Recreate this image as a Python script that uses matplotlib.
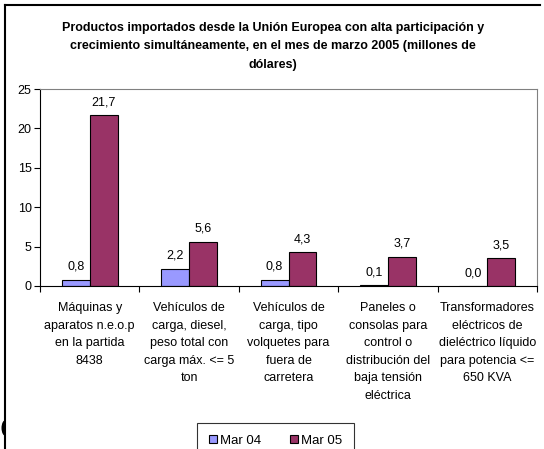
import matplotlib
matplotlib.use("Agg")
import matplotlib.pyplot as plt
from matplotlib.lines import Line2D
from matplotlib.patches import Ellipse, Rectangle
import numpy as np

plt.rcParams['font.family'] = ['Liberation Sans', 'DejaVu Sans']

categories = [
    "Máquinas y\naparatos n.e.o.p\nen la partida\n8438",
    "Vehículos de\ncarga, diesel,\npeso total con\ncarga máx. <= 5\nton",
    "Vehículos de\ncarga, tipo\nvolquetes para\nfuera de\ncarretera",
    "Paneles o\nconsolas para\ncontrol o\ndistribución del\nbaja tensión\neléctrica",
    "Transformadores\neléctricos de\ndieléctrico líquido\npara potencia <=\n650 KVA",
]
mar04 = [0.8, 2.2, 0.8, 0.1, 0.0]
mar05 = [21.7, 5.6, 4.3, 3.7, 3.5]
series_names = ["Mar 04", "Mar 05"]
title = ("Productos importados desde la Unión Europea con alta participación y\n"
         "crecimiento simultáneamente, en el mes de marzo 2005 (millones de\n"
         "dólares)")

W, H = 544, 449
fig = plt.figure(figsize=(W / 100, H / 100), dpi=100)
ax = fig.add_axes([40 / W, 1 - 286 / H, (537 - 40) / W, (286 - 89) / H])

x = np.arange(len(categories))
bw = 0.28
b1 = ax.bar(x - bw / 2, mar04, bw, color="#9999FF", edgecolor="black", linewidth=0.8, label=series_names[0])
b2 = ax.bar(x + bw / 2, mar05, bw, color="#993366", edgecolor="black", linewidth=0.8, label=series_names[1])

for bars, vals in ((b1, mar04), (b2, mar05)):
    for r, v in zip(bars, vals):
        ax.annotate(f"{v:.1f}".replace(".", ","), (r.get_x() + r.get_width() / 2, v),
                    xytext=(0, 5), textcoords="offset points", ha="center", va="bottom", fontsize=9)

ax.set_xlim(-0.5, len(categories) - 0.5)
ax.set_ylim(0, 25)
ax.set_yticks([0, 5, 10, 15, 20, 25])
ax.set_xticks(np.arange(len(categories) + 1) - 0.5)
ax.set_xticklabels([])
ax.tick_params(axis="x", direction="out", length=4, width=0.8)
ax.tick_params(axis="y", direction="out", length=4, width=0.8, labelsize=9, pad=2)
for i, c in enumerate(categories):
    ax.text(i, 1 - (302 - 89) / (286 - 89), c, transform=ax.get_xaxis_transform(), ha="center", va="top",
            fontsize=9, linespacing=1.62)

ax.spines["top"].set_color("#808080")
ax.spines["right"].set_color("#808080")
for s in ("left", "bottom"):
    ax.spines[s].set_color("black")
for s in ax.spines.values():
    s.set_linewidth(0.8)

fig.text(273 / W, 1 - 22 / H, title, ha="center", va="top",
         fontsize=9, fontweight="bold", linespacing=1.7)

leg = fig.legend(handles=[b1, b2], labels=series_names, loc="upper center",
                 bbox_to_anchor=(275.5 / W, 1 - 423 / H), borderaxespad=0, ncol=2, frameon=True,
                 fancybox=False, edgecolor="black", fontsize=9.5,
                 handlelength=0.6, handleheight=0.6, columnspacing=2.2,
                 handletextpad=0.25, borderpad=0.9)
leg.get_frame().set_linewidth(0.8)

fig.add_artist(Line2D([5 / W, 540 / W], [1 - 5 / H, 1 - 5 / H], color="black", lw=1.5, transform=fig.transFigure))
fig.add_artist(Line2D([5 / W, 5 / W], [1 - 5 / H, 0], color="black", lw=1.5, transform=fig.transFigure))
blob = Ellipse((5.5 / W, 1 - 428 / H), 8 / W, 16 / H, facecolor="black", edgecolor="none",
               transform=fig.transFigure)
fig.add_artist(blob)
clip = Rectangle((0, 0), 5.5 / W, 1, transform=fig.transFigure)
blob.set_clip_path(clip)

fig.savefig("out.png", dpi=100)
